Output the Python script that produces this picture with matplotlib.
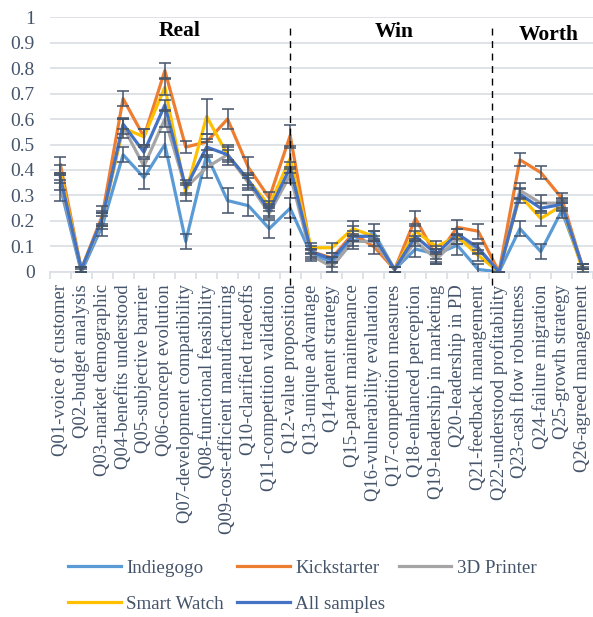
import numpy as np
from matplotlib import pyplot as plt

# Question labels
questions = [
    "Q01-voice of customer", "Q02-budget analysis", "Q03-market demographic",
    "Q04-benefits understood", "Q05-subjective barrier", "Q06-concept evolution",
    "Q07-development compatibility", "Q08-functional feasibility",
    "Q09-cost-efficient manufacturing", "Q10-clarified tradeoffs",
    "Q11-competition validation", "Q12-value proposition", "Q13-unique advantage",
    "Q14-patent strategy", "Q15-patent maintenance", "Q16-vulnerability evaluation",
    "Q17-competition measures", "Q18-enhanced perception",
    "Q19-leadership in marketing", "Q20-leadership in PD", "Q21-feedback management",
    "Q22-understood profitability", "Q23-cash flow robustness",
    "Q24-failure migration", "Q25-growth strategy", "Q26-agreed management",
]

# Mean scores per group
indiegogo = [0.33, 0.00, 0.18, 0.46, 0.37, 0.50, 0.12, 0.46, 0.28, 0.26, 0.17, 0.25, 0.07,
             0.04, 0.12, 0.155, 0.01, 0.09, 0.07, 0.105, 0.01, 0.00, 0.17, 0.08, 0.24, 0.02]
kickstarter = [0.42, 0.01, 0.22, 0.68, 0.53, 0.79, 0.49, 0.51, 0.60, 0.41, 0.29, 0.535, 0.08,
               0.055, 0.15, 0.10, 0.01, 0.21, 0.06, 0.175, 0.16, 0.00, 0.44, 0.39, 0.29, 0.02]
printer_3d = [0.35, 0.01, 0.20, 0.57, 0.415, 0.60, 0.33, 0.41, 0.46, 0.35, 0.23, 0.38, 0.065,
              0.02, 0.12, 0.12, 0.01, 0.12, 0.05, 0.13, 0.09, 0.00, 0.32, 0.27, 0.27, 0.02]
smart_watch = [0.39, 0.01, 0.21, 0.565, 0.53, 0.725, 0.31, 0.61, 0.46, 0.36, 0.26, 0.445, 0.095,
               0.095, 0.17, 0.14, 0.01, 0.16, 0.10, 0.14, 0.065, 0.00, 0.30, 0.21, 0.26, 0.01]
all_samples = [0.37, 0.01, 0.21, 0.58, 0.47, 0.655, 0.33, 0.49, 0.46, 0.36, 0.24, 0.41, 0.08,
               0.05, 0.14, 0.14, 0.01, 0.14, 0.07, 0.15, 0.095, 0.00, 0.305, 0.25, 0.265, 0.02]

# Error bar half-widths per group
indiegogo_err = [0.05, 0.01, 0.04, 0.03, 0.045, 0.05, 0.03, 0.05, 0.05, 0.04, 0.035, 0.04, 0.02,
                 0.02, 0.03, 0.035, 0.01, 0.03, 0.03, 0.04, 0.02, 0.0, 0.03, 0.03, 0.03, 0.01]
kickstarter_err = [0.03, 0.01, 0.04, 0.03, 0.03, 0.03, 0.025, 0.03, 0.04, 0.04, 0.025, 0.04, 0.02,
                   0.02, 0.03, 0.03, 0.01, 0.03, 0.03, 0.03, 0.03, 0.0, 0.025, 0.025, 0.02, 0.01]
printer_3d_err = [0.03, 0.01, 0.03, 0.03, 0.03, 0.03, 0.03, 0.04, 0.03, 0.03, 0.02, 0.03, 0.02,
                  0.02, 0.02, 0.02, 0.01, 0.02, 0.02, 0.02, 0.02, 0.0, 0.03, 0.03, 0.02, 0.01]
smart_watch_err = [0.03, 0.01, 0.03, 0.04, 0.03, 0.03, 0.03, 0.07, 0.04, 0.03, 0.02, 0.04, 0.02,
                   0.02, 0.03, 0.02, 0.01, 0.03, 0.02, 0.03, 0.02, 0.0, 0.03, 0.03, 0.02, 0.01]
all_samples_err = [0.02, 0.01, 0.02, 0.02, 0.02, 0.02, 0.02, 0.03, 0.02, 0.02, 0.02, 0.02, 0.01,
                   0.01, 0.02, 0.02, 0.01, 0.02, 0.02, 0.02, 0.02, 0.0, 0.02, 0.02, 0.02, 0.01]

series = [
    ("Indiegogo", indiegogo, indiegogo_err, "#5B9BD5"),
    ("Kickstarter", kickstarter, kickstarter_err, "#ED7D31"),
    ("3D Printer", printer_3d, printer_3d_err, "#A5A5A5"),
    ("Smart Watch", smart_watch, smart_watch_err, "#FFC000"),
    ("All samples", all_samples, all_samples_err, "#4472C4"),
]

# Section titles and separators
sections = ["Real", "Win", "Worth"]
section_x = [5.7, 16.0, 23.4]
section_y = [0.945, 0.94, 0.93]
separators = [11, 20.65]

text_color = "#44546A"
grid_color = "#DCDFE5"

plt.rcParams["font.family"] = ["Liberation Serif", "DejaVu Serif"]

fig = plt.figure(figsize=(5.93, 6.17), dpi=100)
ax = fig.add_axes([0.0843, 0.5592, 0.9157, 0.4132])

x = np.arange(len(questions))
lines = {}
for name, vals, errs, col in series:
    ln, = ax.plot(x, vals, color=col, lw=2.3, zorder=3, label=name)
    lines[name] = ln
    ax.errorbar(x, vals, yerr=errs, fmt="none", ecolor=text_color, elinewidth=1.1,
                capsize=4, capthick=1.1, zorder=4)

for sx in separators:
    ax.plot([sx, sx], [-0.05, 0.965], color="black", lw=1, ls=(0, (5, 4)),
            clip_on=False, zorder=5)

for label, tx, ty in zip(sections, section_x, section_y):
    ax.text(tx, ty, label, ha="center", va="center", fontsize=15.5,
            fontweight="bold", color="black")

ax.set_xlim(-0.5, len(questions) - 0.5)
ax.set_ylim(0, 1)
ax.set_yticks(np.arange(0, 1.01, 0.1))
ax.set_yticklabels(["0"] + ["%.1f" % v for v in np.arange(0.1, 0.95, 0.1)] + ["1"])
ax.yaxis.grid(True, color=grid_color, lw=1.3)
ax.set_axisbelow(True)
ax.tick_params(axis="y", length=0, pad=11, labelsize=14, labelcolor=text_color)

ax.set_xticks(x)
ax.set_xticklabels(questions, rotation=90, fontsize=13.4, color=text_color)
ax.set_xticks(np.arange(-0.5, len(questions), 1), minor=True)
ax.tick_params(axis="x", which="major", length=0, pad=9)
ax.tick_params(axis="x", which="minor", length=5, color=grid_color, width=1.3)

for s in ["top", "right", "left"]:
    ax.spines[s].set_visible(False)
ax.spines["bottom"].set_color(grid_color)
ax.spines["bottom"].set_linewidth(1.3)

order = ["Indiegogo", "Smart Watch", "Kickstarter", "All samples", "3D Printer"]
leg = fig.legend([lines[n] for n in order], order, loc="center", ncol=3,
                 bbox_to_anchor=(0.51, 0.05), frameon=False, fontsize=13.7,
                 handlelength=2.75, handletextpad=0.3, columnspacing=0.7,
                 labelspacing=1.0)
for t in leg.get_texts():
    t.set_color(text_color)

fig.savefig("out.png", dpi=100)
